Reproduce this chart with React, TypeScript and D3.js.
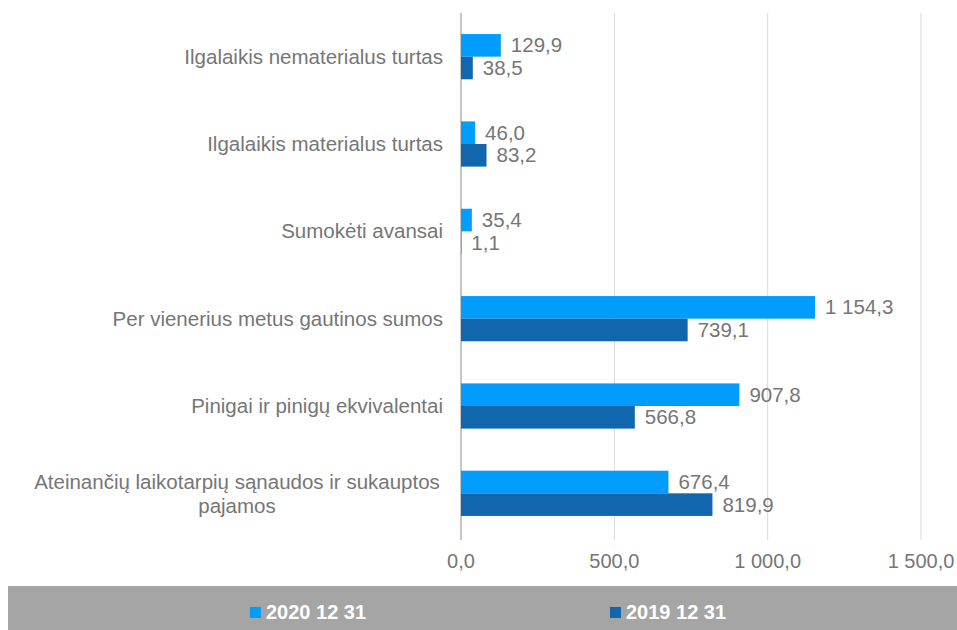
import React from "react";
import * as d3 from "d3";

const categories = [
  "Ilgalaikis nematerialus turtas",
  "Ilgalaikis materialus turtas",
  "Sumokėti avansai",
  "Per vienerius metus gautinos sumos",
  "Pinigai ir pinigų ekvivalentai",
  "Ateinančių laikotarpių sąnaudos ir sukauptos pajamos",
];
const categoryLines = [
  ["Ilgalaikis nematerialus turtas"],
  ["Ilgalaikis materialus turtas"],
  ["Sumokėti avansai"],
  ["Per vienerius metus gautinos sumos"],
  ["Pinigai ir pinigų ekvivalentai"],
  ["Ateinančių laikotarpių sąnaudos ir sukauptos", "pajamos"],
];
const series2020 = [129.9, 46.0, 35.4, 1154.3, 907.8, 676.4];
const series2019 = [38.5, 83.2, 1.1, 739.1, 566.8, 819.9];
const seriesNames = ["2020 12 31", "2019 12 31"];
const ticks = [0, 500, 1000, 1500];

const colors = ["#009dff", "#1166ad"];
const fmt = (v: number) => {
  const s = v.toFixed(1).replace(".", ",");
  const [i, d] = s.split(",");
  const ii = i.replace(/\B(?=(\d{3})+(?!\d))/g, "\u00a0");
  return ii + "," + d;
};

export default function App() {
  const W = 957, H = 630;
  const x = d3.scaleLinear().domain([0, 1500]).range([461, 921]);
  const y = d3.scaleBand<string>().domain(categories).range([13, 537]).paddingInner(0).paddingOuter(0);
  const barH = 22.6;
  const font = "'Liberation Sans', Arial, sans-serif";
  const gray = "#767676";
  return (
    <svg width={W} height={H} style={{ position: "absolute", left: 0, top: 0 }}>
      <rect x={0} y={0} width={W} height={H} fill="#fff" />
      {ticks.map((t) => (
        <line key={t} x1={x(t)} x2={x(t)} y1={13} y2={540} stroke={t === 0 ? "#8c8c8c" : "#d9d9d9"} strokeWidth={1} />
      ))}
      {ticks.map((t) => (
        <text key={"t" + t} x={x(t)} y={568} textAnchor="middle" fontFamily={font} fontSize={20} fill={gray}>
          {fmt(t)}
        </text>
      ))}
      {categories.map((c, i) => {
        const cy = (y(c) as number) + y.bandwidth() / 2;
        const lines = categoryLines[i];
        const vals = [series2020[i], series2019[i]];
        return (
          <g key={c}>
            {lines.length === 1 ? (
              <text x={443} y={cy + 7} textAnchor="end" fontFamily={font} fontSize={20.5} fill={gray}>
                {lines[0]}
              </text>
            ) : (
              <text x={237} y={cy - 4} textAnchor="middle" fontFamily={font} fontSize={20.5} fill={gray}>
                {lines.map((l, k) => (
                  <tspan key={k} x={237} dy={k === 0 ? 0 : 24}>
                    {l}
                  </tspan>
                ))}
              </text>
            )}
            {vals.map((v, k) => {
              const by = cy - barH + k * barH;
              return (
                <g key={k}>
                  <rect x={x(0)} y={by} width={x(v) - x(0)} height={barH} fill={colors[k]} />
                  <text x={x(v) + 10} y={by + barH / 2 + 7} fontFamily={font} fontSize={20.5} fill={gray}>
                    {fmt(v)}
                  </text>
                </g>
              );
            })}
          </g>
        );
      })}
      <rect x={8} y={586} width={949} height={44} fill="#a5a5a5" />
      {seriesNames.map((n, k) => {
        const lx = k === 0 ? 250 : 610;
        return (
          <g key={n}>
            <rect x={lx} y={607} width={11} height={11} fill={colors[k]} />
            <text x={lx + 16} y={619} fontFamily={font} fontWeight="bold" fontSize={20} fill="#fff">
              {n}
            </text>
          </g>
        );
      })}
    </svg>
  );
}
